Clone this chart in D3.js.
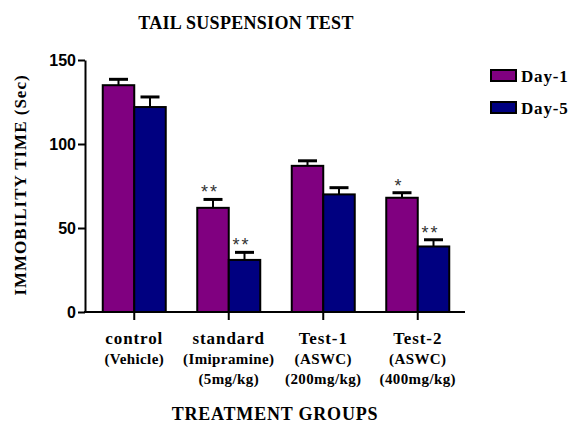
<!DOCTYPE html>
<html>
<head>
<meta charset="utf-8">
<script src="https://cdn.jsdelivr.net/npm/d3@7"></script>
<style>
  body { margin: 0; background: #fff; }
  text { font-family: "Liberation Serif", "Times New Roman", serif; font-weight: bold; }
</style>
</head>
<body>
<script>
// data
const groups = ['control', 'standard', 'Test-1', 'Test-2'];
const groupLabels = [
  ['control', '(Vehicle)'],
  ['standard', '(Imipramine)', '(5mg/kg)'],
  ['Test-1', '(ASWC)', '(200mg/kg)'],
  ['Test-2', '(ASWC)', '(400mg/kg)']
];
const seriesNames = ['Day-1', 'Day-5'];
const day1 = [135, 62, 87, 68];
const day1Err = [3.5, 5, 3, 3];
const day5 = [122, 31, 70, 39];
const day5Err = [6, 4.5, 4, 4];
const day1Stars = ['', '**', '', '*'];
const day5Stars = ['', '**', '', '**'];
const yTicks = [0, 50, 100, 150];
const colors = ['#800080', '#000080'];

const width = 582, height = 423;

const svg = d3.select('body').append('svg')
  .attr('width', width)
  .attr('height', height);

const x = d3.scaleBand()
  .domain(groups)
  .range([87, 465])
  .paddingInner(1 / 3)
  .paddingOuter(1 / 6);

const xs = d3.scaleBand()
  .domain(seriesNames)
  .range([0, x.bandwidth()]);

const y = d3.scaleLinear()
  .domain([0, 150])
  .range([312, 60]);

// bars
const rows = [];
groups.forEach((g, i) => {
  rows.push({ g, s: 'Day-1', v: day1[i], e: day1Err[i], star: day1Stars[i], c: colors[0] });
  rows.push({ g, s: 'Day-5', v: day5[i], e: day5Err[i], star: day5Stars[i], c: colors[1] });
});

const bar = svg.append('g').selectAll('g')
  .data(rows)
  .enter().append('g')
  .attr('transform', d => `translate(${x(d.g) + xs(d.s)},0)`);

// error bars (upper only)
const bw = xs.bandwidth();
bar.append('line')
  .attr('x1', bw / 2).attr('x2', bw / 2)
  .attr('y1', d => y(d.v)).attr('y2', d => y(d.v + d.e))
  .attr('stroke', '#000').attr('stroke-width', 2);
bar.append('line')
  .attr('x1', bw / 2 - 9.5).attr('x2', bw / 2 + 9.5)
  .attr('y1', d => y(d.v + d.e)).attr('y2', d => y(d.v + d.e))
  .attr('stroke', '#000').attr('stroke-width', 3);

bar.append('rect')
  .attr('x', 0)
  .attr('y', d => y(d.v))
  .attr('width', bw)
  .attr('height', d => y(0) - y(d.v))
  .attr('fill', d => d.c)
  .attr('stroke', '#000')
  .attr('stroke-width', 2);

bar.append('text')
  .attr('x', bw / 2 - 3)
  .attr('y', d => y(d.v + d.e) - 1)
  .attr('text-anchor', 'middle')
  .style('font-family', '"Liberation Sans", Arial, sans-serif')
  .style('font-weight', 'normal')
  .style('font-size', '18px')
  .style('letter-spacing', '2px')
  .attr('fill', '#333')
  .text(d => d.star);

// y axis
const yAxis = svg.append('g')
  .attr('transform', 'translate(85,0)')
  .call(d3.axisLeft(y).tickValues(yTicks).tickSize(7).tickSizeOuter(0).tickPadding(2));
yAxis.select('.domain').attr('stroke-width', 2);
yAxis.selectAll('.tick line').attr('stroke-width', 2);
yAxis.selectAll('.tick text')
  .style('font-family', '"Liberation Sans", Arial, sans-serif')
  .style('font-weight', 'bold')
  .style('font-size', '16px')
  .attr('fill', '#000');

// x axis
const xAxis = svg.append('g')
  .attr('transform', 'translate(0,312)')
  .call(d3.axisBottom(x).tickSize(8).tickSizeOuter(0).tickFormat(''));
xAxis.select('.domain').attr('d', 'M84,0H465').attr('stroke-width', 2);
xAxis.selectAll('.tick line').attr('stroke-width', 2);

// multi-line category labels
groupLabels.forEach((lines, i) => {
  const cx = x(groups[i]) + x.bandwidth() / 2;
  lines.forEach((t, j) => {
    svg.append('text')
      .attr('x', cx)
      .attr('y', 344 + j * 20)
      .attr('text-anchor', 'middle')
      .style('font-size', j === 0 ? '17px' : '15px')
      .style('letter-spacing', j === 0 ? '0.9px' : '0.4px')
      .text(t);
  });
});

// titles
svg.append('text')
  .attr('x', 246).attr('y', 29)
  .attr('text-anchor', 'middle')
  .style('font-size', '18px')
  .style('letter-spacing', '0.3px')
  .text('TAIL SUSPENSION TEST');

svg.append('text')
  .attr('x', 275).attr('y', 420)
  .attr('text-anchor', 'middle')
  .style('font-size', '18px')
  .style('letter-spacing', '0.8px')
  .text('TREATMENT GROUPS');

svg.append('text')
  .attr('transform', 'translate(26,185) rotate(-90)')
  .attr('text-anchor', 'middle')
  .style('font-size', '17px')
  .style('letter-spacing', '1px')
  .text('IMMOBILITY TIME (Sec)');

// legend
const legend = svg.append('g').selectAll('g')
  .data(seriesNames)
  .enter().append('g')
  .attr('transform', (d, i) => `translate(491,${70 + i * 32})`);
legend.append('rect')
  .attr('width', 25).attr('height', 11)
  .attr('fill', (d, i) => colors[i])
  .attr('stroke', '#000').attr('stroke-width', 2);
legend.append('text')
  .attr('x', 30).attr('y', 12)
  .style('font-size', '17px')
  .style('letter-spacing', '0.8px')
  .text(d => d);
</script>
</body>
</html>
